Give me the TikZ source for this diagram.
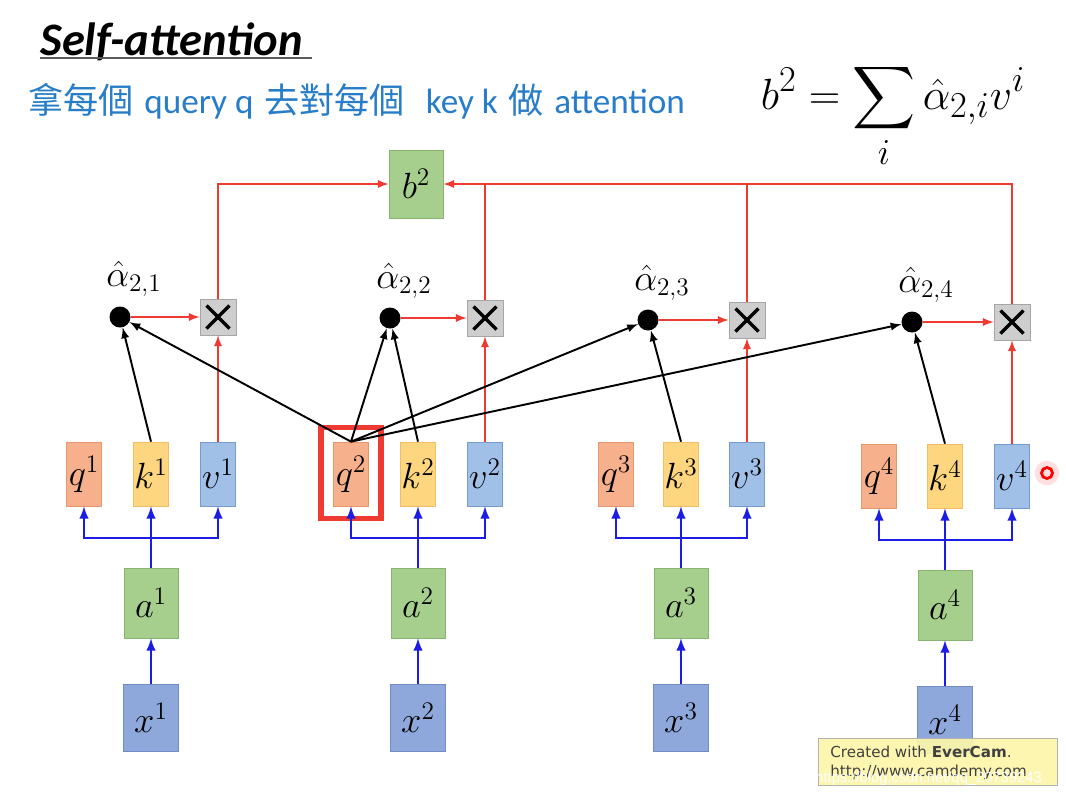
\documentclass[tikz,border=0pt]{standalone}
\usepackage{amsmath}
\usepackage{fontspec}
\newfontfamily\cjk{Noto Sans CJK TC}
\newfontfamily\calib{Carlito}
\newfontfamily\dejav{DejaVu Sans}
\newfontfamily\libs{Liberation Sans}
\usepackage{tikz}
\usetikzlibrary{positioning,arrows}

\definecolor{qfill}{RGB}{246,176,140}
\definecolor{qline}{RGB}{228,150,110}
\definecolor{kfill}{RGB}{254,214,128}
\definecolor{kline}{RGB}{240,190,100}
\definecolor{vfill}{RGB}{160,192,232}
\definecolor{vline}{RGB}{120,155,205}
\definecolor{gfill}{RGB}{166,206,140}
\definecolor{gline}{RGB}{135,180,110}
\definecolor{xfill}{RGB}{142,168,220}
\definecolor{xline}{RGB}{115,140,200}
\definecolor{mulfill}{RGB}{206,206,206}
\definecolor{redl}{RGB}{238,58,48}
\definecolor{bluel}{RGB}{28,28,228}
\definecolor{subblue}{RGB}{40,125,200}
\definecolor{evfill}{RGB}{252,246,170}

\tikzset{
    qkv/.style={minimum width=7mm, minimum height=12.8mm, inner sep=0pt,
        font=\fontsize{20.74}{24}\selectfont},
    qbox/.style={qkv, draw=qline, fill=qfill},
    kbox/.style={qkv, draw=kline, fill=kfill},
    vbox/.style={qkv, draw=vline, fill=vfill},
    gbox/.style={draw=gline, fill=gfill, minimum width=10.8mm, minimum height=14mm,
        inner sep=0pt, font=\fontsize{20.74}{24}\selectfont},
    xbox/.style={draw=xline, fill=xfill, minimum width=11mm, minimum height=13.4mm,
        inner sep=0pt, font=\fontsize{20.74}{24}\selectfont},
    dot/.style={circle, fill=black, minimum size=4.2mm, inner sep=0pt},
    mul/.style={draw=gray!70, fill=mulfill, minimum size=7.2mm, inner sep=0pt,
        path picture={
            \draw[black, line width=1.9pt]
                ([shift={(-2.3mm,-2.3mm)}]path picture bounding box.center) --
                ([shift={(2.3mm,2.3mm)}]path picture bounding box.center);
            \draw[black, line width=1.9pt]
                ([shift={(-2.3mm,2.3mm)}]path picture bounding box.center) --
                ([shift={(2.3mm,-2.3mm)}]path picture bounding box.center);}},
    alab/.style={font=\fontsize{20.74}{24}\selectfont},
    redarr/.style={draw=redl, line width=1.1pt, ->, >=latex},
    redln/.style={draw=redl, line width=1.1pt},
    bluearr/.style={draw=bluel, line width=1.4pt, ->, >=latex},
    bluln/.style={draw=bluel, line width=1.4pt},
    blkarr/.style={draw=black, line width=1.1pt, ->, >=latex}
}

\begin{document}
\begin{tikzpicture}[x=0.2mm, y=-0.2mm]

        \fill[white] (0,0) rectangle (1066,800);
        \useasboundingbox (0,0) rectangle (1066,800);

        %%title
        \node[anchor=west, inner sep=0pt] (title) at (40,42)
            {\calib\bfseries\itshape\fontsize{26.5}{30}\selectfont Self-attention};
        \draw[gray!70!black, line width=1pt] (40,58) to (312,58);
        \node[anchor=west, inner sep=0pt, text=subblue] (sub) at (28,101)
            {\fontsize{20}{24}\selectfont{\cjk 拿每個} {\calib query q} {\cjk 去對每個}\ \ {\calib key k} {\cjk 做} {\calib attention}};
        \node (formula) at (893,116)
            {\fontsize{24.88}{30}\selectfont$\displaystyle b^2=\sum_i\hat{\alpha}_{2,i}v^i$};

        %%b2
        \node[gbox, minimum height=13.6mm] (b2) at (416,184){$b^2$};

        %%L1
        \node[qbox] (q1) at (84,474){$q^1$};
        \node[kbox] (k1) at (151,474){$k^1$};
        \node[vbox] (v1) at (218,474){$v^1$};
        \node[gbox] (a1) at (151,603){$a^1$};
        \node[xbox] (x1) at (151,718){$x^1$};
            \coordinate (j1) at (151,538);
        \node[dot] (d1) at (120,317){};
            \node[alab] (al1) at (134,279){$\hat{\alpha}_{2,1}$};
        \node[mul] (m1) at (218,317){};

        %%L2
        \node[qbox] (q2) at (351,474){$q^2$};
        \node[kbox] (k2) at (418,474){$k^2$};
        \node[vbox] (v2) at (485,474){$v^2$};
        \node[gbox] (a2) at (418,603){$a^2$};
        \node[xbox] (x2) at (418,718){$x^2$};
            \coordinate (j2) at (418,538);
        \node[dot] (d2) at (390,318){};
            \node[alab] (al2) at (404,281){$\hat{\alpha}_{2,2}$};
        \node[mul] (m2) at (485,318){};

        %%L3
        \node[qbox] (q3) at (616,474){$q^3$};
        \node[kbox] (k3) at (681,474){$k^3$};
        \node[vbox] (v3) at (747,474){$v^3$};
        \node[gbox] (a3) at (681,603){$a^3$};
        \node[xbox] (x3) at (681,718){$x^3$};
            \coordinate (j3) at (681,538);
        \node[dot] (d3) at (648,320){};
            \node[alab] (al3) at (662,283){$\hat{\alpha}_{2,3}$};
        \node[mul] (m3) at (747,320){};

        %%L4
        \node[qbox] (q4) at (879,476){$q^4$};
        \node[kbox] (k4) at (945,476){$k^4$};
        \node[vbox] (v4) at (1012,476){$v^4$};
        \node[gbox] (a4) at (945,605){$a^4$};
        \node[xbox] (x4) at (945,720){$x^4$};
            \coordinate (j4) at (945,540);
        \node[dot] (d4) at (912,322){};
            \node[alab] (al4) at (926,285){$\hat{\alpha}_{2,4}$};
        \node[mul] (m4) at (1012,322){};

        %%highlight q2
        \node[draw=redl, line width=3.4pt, minimum width=12mm, minimum height=18.2mm,
            inner sep=0pt] (hl) at (351,473){};

        %%blue
        \foreach \i in {1,2,3,4}{
            \draw[bluearr] (x\i.north) to (a\i.south);
            \draw[bluearr] (a\i.north) to (k\i.south);
            \draw[bluearr] (j\i) -| (q\i.south);
            \draw[bluearr] (j\i) -| (v\i.south);
            \draw[redarr] (v\i.north) to (m\i.south);
            \draw[redarr] (d\i.east) to (m\i.west);
            \draw[blkarr] (k\i.north) to (d\i);
            \draw[blkarr] (q2.north) to (d\i);
        }

        %%red to b2
        \draw[redarr] (m1.north) |- (b2.west);
        \draw[redarr] (m4.north) |- (b2.east);
        \draw[redln] (m2.north) to (m2.north |- b2.east);
        \draw[redln] (m3.north) to (m3.north |- b2.east);

        %%pointer
        \fill[red!12] (1047,473) circle (7pt);
        \node[circle, draw=red, line width=1.6pt, minimum size=2.2mm, inner sep=0pt] (cur) at (1047,473){};

        %%evercam
        \node[anchor=north west, draw=gray!60, fill=evfill, fill opacity=0.92,
            minimum width=47.8mm, minimum height=9.4mm] (ever) at (818,738){};
        \node[anchor=west, inner sep=0pt, text=black!75] (ev1) at (830,752)
            {\dejav\fontsize{8.6}{10}\selectfont Created with \textbf{EverCam}.};
        \node[anchor=west, inner sep=0pt, text=black!75] (ev2) at (830,772)
            {\dejav\fontsize{8.6}{10}\selectfont http://www.camdemy.com};
        \node[anchor=west, inner sep=0pt, text=white] (wm) at (815,779)
            {\libs\fontsize{8.4}{10}\selectfont https://blog.csdn.net/qq\_20739243};

    \end{tikzpicture}
\end{document}
